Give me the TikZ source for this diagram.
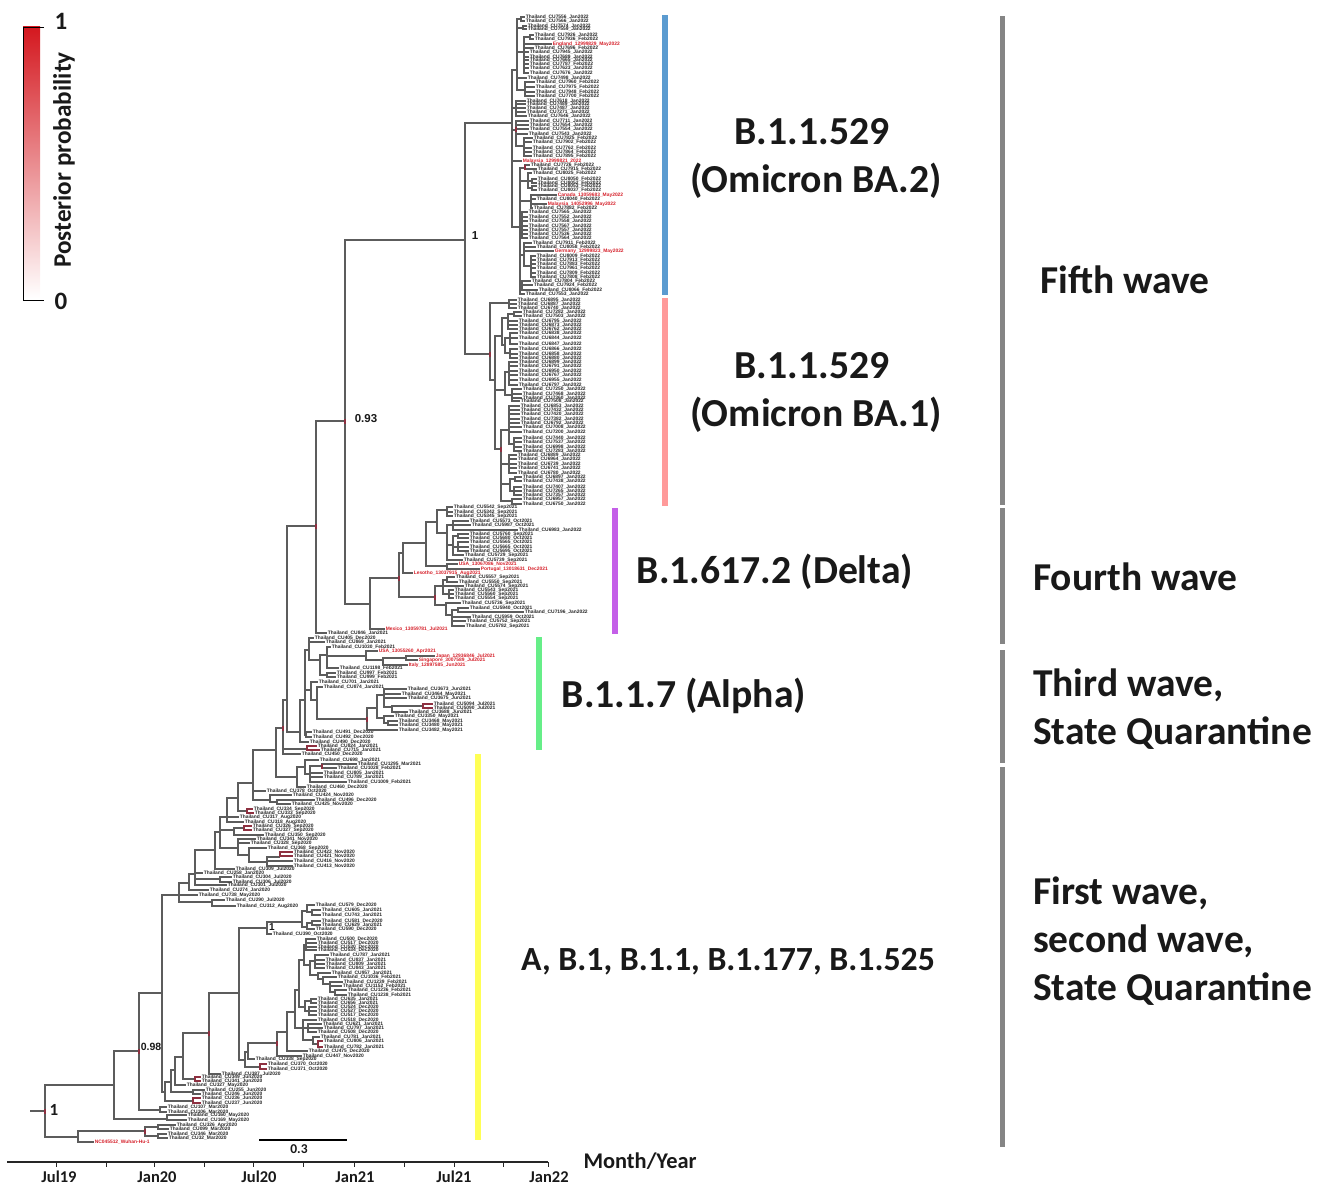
\documentclass[tikz,border=0pt]{standalone}
\usepackage{fontspec}
\setmainfont{Liberation Sans}
\newfontfamily\bigf{Carlito}[BoldFont={Carlito Bold}]
\definecolor{brc}{HTML}{5C5C5C}
\definecolor{brd}{HTML}{8E3040}
\definecolor{tipred}{HTML}{D5202A}
\definecolor{barblue}{HTML}{5B9BD0}
\definecolor{barpink}{HTML}{FF9A9A}
\definecolor{barpurple}{HTML}{C45FE8}
\definecolor{bargreen}{HTML}{66EE88}
\definecolor{baryellow}{HTML}{FFFF55}
\definecolor{wavegray}{HTML}{858585}
\definecolor{legred}{HTML}{D4181F}
\tikzset{
  br/.style={draw=brc,line width=1.15pt},
  brr/.style={draw=brd,line width=1.15pt},
  tipt/.style={font=\fontsize{4.9}{4.9}\selectfont\bfseries,inner sep=0.6pt,anchor=west,text=black!85},
  tipo/.style={font=\fontsize{4.9}{4.9}\selectfont\bfseries,inner sep=0.6pt,anchor=west,text=tipred},
  biglab/.style={font=\bigf\fontsize{39.7}{39.7}\selectfont\bfseries,inner sep=0,text=black!90},
  wavelab/.style={font=\bigf\fontsize{39.5}{39.5}\selectfont\bfseries,inner sep=0,anchor=west,text=black!90},
  axlab/.style={font=\bigf\fontsize{16.5}{16.5}\selectfont\bfseries,inner sep=0,text=black!90},
  pplab/.style={font=\bigf\bfseries,inner sep=0,text=black!90},
  wavebar/.style={fill=wavegray,draw=none},
}
\newcount\tipno
\newcommand\inn[5][br]{\coordinate (#2) at (#4,#5); \draw[#1] (#3) |- (#2);}
\newcommand\T[6][br]{\global\advance\tipno by 1
  \node[tipt] (t\the\tipno) at (#3,#4) {Thailand\_CU#5\_#6};
  \draw[#1] (#2) |- (t\the\tipno.west);}
\newcommand\R[5][br]{\global\advance\tipno by 1
  \node[tipo] (t\the\tipno) at (#3,#4) {#5};
  \draw[#1] (#2) |- (t\the\tipno.west);}
\newcommand\mk[1]{\draw[brr] ([yshift=-2.5pt]#1) -- ([yshift=2.5pt]#1);}
\begin{document}
\begin{tikzpicture}[x=1pt,y=-1pt]
\useasboundingbox (0,0) rectangle (1320,1193);
% legend
\shade[top color=legred,bottom color=white,draw=none] (23,27) rectangle (40,298);
\coordinate (lega) at (44,27); \coordinate (legb) at (23,27); \coordinate (legc) at (23,300); \coordinate (legd) at (44,300);
\draw[black,line width=0.8pt] (lega) -- (legb) -- (legc) -- (legd);
\node[pplab,font=\bigf\fontsize{25}{25}\selectfont\bfseries] (leg1) at (61,21) {1};
\node[pplab,font=\bigf\fontsize{25}{25}\selectfont\bfseries] (leg0) at (61,301) {0};
\node[pplab,font=\bigf\fontsize{25.2}{25.2}\selectfont\bfseries,rotate=90] (legt) at (64,160) {Posterior probability};
% tree root
\coordinate (s) at (30,1111); \coordinate (r) at (45,1111);
\draw[br] (s) -- (r);
\inn{a}{r}{114}{1085}
\inn{w}{r}{78}{1137}
\R{w}{94}{1142}{NC045512\_Wuhan-Hu-1}
\inn{wa}{w}{145}{1131}
\inn{wb}{wa}{158}{1127}
\T{wb}{176}{1125}{326}{Apr2020}
\T{wb}{169}{1129}{099}{Mar2020}
\inn{wc}{wa}{158}{1136}
\T{wc}{167}{1134}{346}{Mar2020}
\T{wc}{168}{1138}{32}{Mar2020}
\inn{b}{a}{139}{1051}
\inn{c}{a}{167}{1119}
\T{c}{187}{1115}{160}{May2020}
\T{c}{187}{1120}{169}{May2020}
\inn{d}{b}{162}{993}
\inn{e}{b}{160}{1110}
\T{e}{167}{1107}{107}{Mar2020}
\T{e}{167}{1112}{106}{Mar2020}
\inn{g}{d}{165}{1092}
\inn{ga}{g}{193}{1101}
\T[brr]{ga}{201}{1098}{236}{Jun2020}
\T[brr]{ga}{201}{1103}{237}{Jun2020}
\inn{h}{g}{171}{1082}
\inn{hd}{h}{193}{1092}
\T{hd}{205}{1090}{255}{Jun2020}
\T{hd}{201}{1094}{246}{Jun2020}
\inn{i}{h}{175}{1070}
\T{i}{186}{1085}{327}{May2020}
\inn{j}{i}{183}{1057}
\inn{fr}{j}{195}{1079}
\T[brr]{fr}{201}{1077}{349}{Jun2020}
\T[brr]{fr}{201}{1081}{341}{Jun2020}
\inn{k}{j}{209}{1033}
\T{k}{221}{1074}{387}{Jul2020}
\inn{l}{k}{239}{993}
\inn{m}{l}{267}{928}
\T{m}{272}{934}{390}{Oct2020}
\inn{o}{m}{302}{922}
\inn{oa}{o}{307}{911}
\T{oa}{315}{905}{579}{Dec2020}
\inn{ob}{oa}{312}{912}
\T{ob}{321}{910}{605}{Jan2021}
\T{ob}{321}{915}{743}{Jan2021}
\inn{oc}{o}{307}{927}
\inn{od}{oc}{312}{923}
\T{od}{321}{921}{581}{Dec2020}
\T{od}{321}{925}{629}{Jan2021}
\T{oc}{315}{929}{590}{Dec2020}
\inn{n}{l}{245}{1060}
\inn{na}{n}{248}{1052}
\T{na}{255}{1059}{338}{Sep2020}
\inn{nb}{n}{260}{1067}
\T[brr]{nb}{267}{1064}{370}{Oct2020}
\T[brr]{nb}{267}{1069}{371}{Oct2020}
\inn{q}{na}{277}{1043}
\T{q}{302}{1056}{447}{Nov2020}
\inn{qa}{q}{287}{1032}
\T{qa}{308}{1051}{475}{Dec2020}
\inn{qb}{qa}{295}{1012}
\inn{qc}{qb}{299}{990}
\inn{qd}{qb}{303}{1028}
\T{qd}{317}{1020}{518}{Dec2020}
\inn{qe}{qd}{308}{1028}
\T{qe}{322}{1024}{621}{Jan2021}
\T{qe}{323}{1028}{797}{Jan2021}
\T{qe}{317}{1032}{508}{Dec2020}
\inn{qf}{qd}{313}{1040}
\T{qf}{320}{1037}{781}{Jan2021}
\inn{qg}{qf}{318}{1044}
\T[brr]{qg}{323}{1041}{806}{Jan2021}
\T[brr]{qg}{323}{1047}{782}{Jan2021}
\inn{qh}{qc}{304}{960}
\inn{qi}{qc}{305}{1007}
\inn{qj}{qi}{311}{1001}
\T{qj}{317}{999}{635}{Jan2021}
\T{qj}{317}{1003}{656}{Jan2021}
\inn{qk}{qi}{309}{1011}
\T{qk}{317}{1007}{524}{Dec2020}
\T{qk}{317}{1011}{527}{Dec2020}
\T{qk}{317}{1015}{517}{Dec2020}
\inn{ql}{qh}{306}{945}
\T{ql}{316}{939}{500}{Dec2020}
\T{ql}{317}{943}{517}{Dec2020}
\T{ql}{317}{947}{530}{Dec2020}
\T{ql}{317}{950}{534}{Dec2020}
\inn{qm}{qh}{310}{965}
\inn{qn}{qm}{315}{961}
\T{qn}{329}{955}{787}{Jan2021}
\T{qn}{325}{960}{837}{Jan2021}
\T{qn}{325}{964}{809}{Jan2021}
\T{qn}{325}{968}{843}{Jan2021}
\inn{qo}{qm}{318}{975}
\T{qo}{331}{973}{957}{Jan2021}
\inn{qp}{qo}{323}{979}
\T{qp}{337}{977}{1036}{Feb2021}
\inn{qq}{qp}{330}{984}
\T{qq}{343}{982}{1239}{Feb2021}
\T{qq}{342}{986}{1152}{Feb2021}
\inn{qr}{qq}{335}{992}
\T{qr}{347}{990}{1236}{Feb2021}
\T{qr}{347}{995}{1238}{Feb2021}
% upper part of the early tree
\inn{f}{d}{179}{895}
\T{f}{198}{895}{738}{May2020}
\inn{fa}{f}{212}{902}
\T{fa}{225}{900}{290}{Jul2020}
\T{fa}{236}{906}{312}{Aug2020}
\inn{fb}{f}{189}{883}
\T{fb}{209}{890}{274}{Jan2020}
\inn{fc}{fb}{195}{874}
\T{fc}{203}{873}{258}{Jan2020}
\inn{fd}{fc}{220}{879}
\T{fd}{232}{877}{304}{Jul2020}
\T{fd}{232}{882}{306}{Jul2020}
\T{fc}{227}{885}{301}{Jul2020}
\inn{fe}{fc}{215}{850}
\T{fe}{235}{869}{309}{Jul2020}
\inn{ff}{fe}{220}{832}
\inn{fg}{ff}{227}{817}
\T{fg}{239}{817}{317}{Aug2020}
\T{fg}{244}{822}{318}{Aug2020}
\inn{fh}{ff}{234}{830}
\inn{fi}{fh}{244}{828}
\T[brr]{fi}{252}{826}{326}{Sep2020}
\T[brr]{fi}{252}{830}{327}{Sep2020}
\T{fh}{264}{835}{350}{Sep2020}
\inn{fj}{ff}{238}{848}
\T{fj}{256}{839}{341}{Nov2020}
\T{fj}{250}{843}{328}{Sep2020}
\inn{fk}{fj}{249}{855}
\T{fk}{267}{848}{368}{Sep2020}
\inn{fl}{fk}{267}{862}
\inn{fm}{fl}{280}{857}
\T[brr]{fm}{293}{852}{422}{Nov2020}
\T[brr]{fm}{293}{856}{421}{Nov2020}
\T{fl}{293}{861}{416}{Nov2020}
\T{fl}{293}{866}{413}{Nov2020}
\inn{fn}{fg}{238}{798}
\inn{fo}{fn}{247}{811}
\T[brr]{fo}{253}{809}{334}{Sep2020}
\T[brr]{fo}{254}{813}{333}{Sep2020}
\inn{fp}{fn}{253}{783}
\T{fp}{266}{791}{378}{Oct2020}
\inn{fq}{fp}{270}{800}
\T{fq}{292}{795}{424}{Nov2020}
\inn{fr2}{fq}{277}{802}
\T{fr2}{315}{800}{496}{Dec2020}
\T{fr2}{291}{804}{425}{Nov2020}
\inn{fs}{fp}{276}{750}
\inn{ft}{fs}{297}{777}
\T{ft}{306}{787}{460}{Dec2020}
\inn{fu}{ft}{305}{767}
\T{fu}{319}{760}{698}{Jan2021}
\inn{fv}{fu}{310}{774}
\inn{fw}{fv}{322}{766}
\T{fw}{357}{764}{1295}{Mar2021}
\T{fw}{337}{768}{1028}{Feb2021}
\T{fv}{323}{773}{805}{Jan2021}
\T{fv}{323}{777}{789}{Jan2021}
\T{fv}{347}{782}{1009}{Feb2021}
% trunk
\inn{tr}{fs}{283}{728}
\T{tr}{301}{754}{450}{Dec2020}
\inn{tra}{tr}{307}{749}
\T[brr]{tra}{317}{746}{824}{Jan2021}
\T[brr]{tra}{320}{750}{715}{Jan2021}
\inn{tk}{tr}{287}{700}
\inn{al}{tk}{300}{732}
\T{al}{309}{742}{490}{Dec2020}
\inn{aa}{al}{305}{700}
\inn{ab}{aa}{306}{735}
\T{ab}{312}{732}{491}{Dec2020}
\T{ab}{312}{737}{492}{Dec2020}
\inn{ac}{aa}{309}{650}
\T{ac}{314}{638}{405}{Dec2020}
\T{ac}{325}{642}{869}{Jan2021}
\inn{ad}{ac}{320}{660}
\inn{ae}{ad}{327}{655}
\T{ae}{331}{647}{1030}{Feb2021}
\T{ae}{339}{668}{1198}{Feb2021}
\inn{af}{ad}{327}{675}
\T{af}{336}{673}{997}{Feb2021}
\T{af}{336}{677}{999}{Feb2021}
\inn{ag}{ae}{366}{656}
\R{ag}{378}{651}{USA\_13055260\_Apr2021}
\inn{ah}{ag}{383}{660}
\inn{ai}{ah}{406}{658}
\R{ai}{435}{656}{Japan\_12936846\_Jul2021}
\R{ai}{418}{660}{Singapore\_3007589\_Jul2021}
\R{ah}{408}{665}{Italy\_12897585\_Jun2021}
\inn{aj}{aa}{311}{690}
\T{aj}{318}{682}{701}{Jan2021}
\inn{ak}{aj}{317}{700}
\T{ak}{323}{687}{874}{Jan2021}
\inn{am}{ak}{367}{719}
\T{am}{398}{730}{3482}{May2021}
\inn{an}{am}{377}{708}
\inn{ao}{an}{384}{695}
\T{ao}{407}{689}{3673}{Jun2021}
\T{ao}{401}{694}{3464}{May2021}
\T{ao}{407}{698}{3675}{Jun2021}
\inn{ap}{ao}{392}{707}
\inn{aq}{ap}{423}{706}
\T[brr]{aq}{433}{704}{5094}{Jul2021}
\T[brr]{aq}{433}{708}{5090}{Jul2021}
\T{ap}{408}{712}{3688}{Jun2021}
\inn{as}{an}{384}{718}
\T{as}{394}{716}{3350}{May2021}
\inn{at}{as}{388}{723}
\T{at}{398}{721}{3468}{May2021}
\T{at}{398}{725}{3480}{May2021}
\inn{up}{tk}{316}{526}
\T{up}{327}{633}{846}{Jan2021}
\inn{mj}{up}{345}{421}
\inn{dl}{mj}{370}{604}
\R{dl}{385}{629}{Mexico\_13059781\_Jul2021}
% delta
\inn{da}{dl}{399}{578}
\inn{db}{da}{403}{553}
\R{db}{413}{573}{Lesotho\_13037915\_Aug2021}
\inn{dc}{db}{426}{543}
\inn{dd}{dc}{437}{522}
\inn{de}{dc}{447}{566}
\R{de}{458}{564}{USA\_13067086\_Nov2021}
\R{de}{480}{569}{Portugal\_13018631\_Dec2021}
\inn{df}{dd}{447}{510}
\T{df}{453}{507}{5542}{Sep2021}
\T{df}{453}{512}{5342}{Sep2021}
\T{df}{453}{516}{5345}{Sep2021}
\inn{dg}{dd}{447}{533}
\T{dg}{463}{560}{5739}{Sep2021}
\inn{dh}{dg}{453}{525}
\T{dh}{469}{521}{5573}{Oct2021}
\T{dh}{471}{525}{5987}{Oct2021}
\T{dh}{518}{530}{6983}{Jan2022}
\inn{di}{dg}{453}{545}
\T{di}{464}{555}{5729}{Sep2021}
\inn{dj}{di}{458}{536}
\T{dj}{469}{534}{5760}{Sep2021}
\T{dj}{469}{538}{5680}{Oct2021}
\inn{dk}{di}{458}{547}
\T{dk}{469}{542}{5565}{Oct2021}
\T{dk}{469}{547}{5665}{Oct2021}
\T{dk}{469}{551}{5695}{Oct2021}
\inn{dm}{da}{435}{597}
\inn{dn}{dm}{443}{586}
\inn{dp}{dn}{447}{580}
\T{dp}{455}{577}{5557}{Sep2021}
\T{dp}{458}{582}{5550}{Sep2021}
\T{dn}{464}{586}{5574}{Sep2021}
\inn{dq}{dn}{449}{594}
\T{dq}{454}{590}{5543}{Sep2021}
\T{dq}{454}{594}{5560}{Sep2021}
\T{dq}{454}{598}{5554}{Sep2021}
\inn{dr}{dm}{446}{605}
\T{dr}{461}{603}{5736}{Sep2021}
\inn{ds}{dr}{452}{615}
\inn{dt}{ds}{458}{610}
\T{dt}{469}{608}{5940}{Oct2021}
\T{dt}{524}{612}{7196}{Jan2022}
\T{ds}{471}{617}{5959}{Oct2021}
\T{ds}{466}{621}{5752}{Sep2021}
\T{ds}{465}{626}{5782}{Sep2021}
% omicron
\inn{om}{mj}{465}{240}
\inn{xa}{om}{490}{354}
\inn{xb}{xa}{509}{303}
\T{xb}{517}{300}{6895}{Jan2022}
\T{xb}{517}{304}{6887}{Jan2022}
\T{xb}{517}{308}{6740}{Jan2022}
\inn{xc}{xa}{495}{380}
\inn{xd}{xc}{502}{336}
\inn{xe}{xd}{508}{318}
\inn{xf}{xe}{514}{314}
\T{xf}{522}{312}{7282}{Jan2022}
\T{xf}{522}{316}{7503}{Jan2022}
\T{xe}{518}{321}{6795}{Jan2022}
\T{xe}{518}{325}{6873}{Jan2022}
\T{xe}{518}{329}{6762}{Jan2022}
\inn{xg}{xd}{505}{345}
\inn{xh}{xg}{510}{338}
\T{xh}{518}{333}{6838}{Jan2022}
\T{xh}{518}{338}{6844}{Jan2022}
\T{xh}{518}{344}{6847}{Jan2022}
\inn{xi}{xg}{510}{353}
\T{xi}{518}{349}{6866}{Jan2022}
\T{xi}{518}{354}{6858}{Jan2022}
\T{xi}{518}{358}{6880}{Jan2022}
\inn{xj}{xc}{505}{390}
\inn{xk}{xj}{509}{372}
\T{xk}{518}{362}{6899}{Jan2022}
\T{xk}{518}{366}{6791}{Jan2022}
\T{xk}{518}{371}{6950}{Jan2022}
\T{xk}{518}{375}{6767}{Jan2022}
\T{xk}{518}{380}{6955}{Jan2022}
\T{xk}{518}{385}{6797}{Jan2022}
\inn{xl}{xj}{512}{395}
\T{xl}{522}{389}{7250}{Jan2022}
\T{xl}{522}{394}{7468}{Jan2022}
\T{xl}{522}{398}{7360}{Jan2022}
\T{xl}{520}{401}{7508}{Jan2022}
\inn{xm}{xc}{501}{449}
\inn{xn}{xm}{509}{430}
\T{xn}{520}{406}{6853}{Jan2022}
\T{xn}{520}{410}{7432}{Jan2022}
\T{xn}{520}{414}{7420}{Jan2022}
\T{xn}{520}{419}{7382}{Jan2022}
\T{xn}{520}{423}{6792}{Jan2022}
\T{xn}{522}{427}{7008}{Jan2022}
\T{xn}{522}{432}{7200}{Jan2022}
\inn{xo}{xn}{514}{444}
\T{xo}{522}{438}{7440}{Jan2022}
\T{xo}{522}{442}{7537}{Jan2022}
\T{xo}{522}{447}{6998}{Jan2022}
\T{xo}{522}{451}{7283}{Jan2022}
\inn{xp}{xm}{509}{464}
\T{xp}{517}{455}{6889}{Jan2022}
\T{xp}{517}{459}{6964}{Jan2022}
\T{xp}{517}{464}{6739}{Jan2022}
\T{xp}{517}{468}{6741}{Jan2022}
\T{xp}{517}{473}{6780}{Jan2022}
\inn{xq}{xm}{510}{484}
\inn{xr}{xq}{515}{479}
\T{xr}{522}{477}{6897}{Jan2022}
\T{xr}{522}{481}{7438}{Jan2022}
\inn{xs}{xq}{514}{491}
\T{xs}{522}{487}{7407}{Jan2022}
\T{xs}{522}{491}{7265}{Jan2022}
\T{xs}{522}{495}{7357}{Jan2022}
\inn{xt}{xm}{512}{501}
\T{xt}{522}{499}{6957}{Jan2022}
\T{xt}{522}{504}{6750}{Jan2022}
\inn{ya}{om}{512}{123}
\inn{yb}{ya}{517}{70}
\inn{yc}{yb}{521}{19}
\T{yc}{525}{17}{7556}{Jan2022}
\T{yc}{525}{21}{7566}{Jan2022}
\inn{yd}{yb}{523}{28}
\T{yd}{527}{26}{7574}{Jan2022}
\T{yd}{527}{29}{7559}{Jan2022}
\inn{ye}{yb}{524}{52}
\inn{yf}{ye}{530}{37}
\T{yf}{534}{35}{7926}{Jan2022}
\T{yf}{534}{39}{7936}{Feb2022}
\R{ye}{552}{44}{England\_12999829\_May2022}
\T{ye}{534}{48}{7696}{Feb2022}
\T{ye}{529}{52}{7945}{Jan2022}
\T{ye}{529}{57}{7689}{Jan2022}
\T{ye}{529}{60}{7665}{Jan2022}
\T{ye}{529}{64}{7787}{Feb2022}
\T{ye}{529}{68}{7623}{Jan2022}
\T{ye}{529}{73}{7676}{Jan2022}
\T{yb}{527}{78}{7498}{Jan2022}
\inn{yg}{yb}{525}{90}
\T{yg}{535}{82}{7960}{Feb2022}
\T{yg}{535}{87}{7975}{Feb2022}
\T{yg}{535}{92}{7948}{Feb2022}
\T{yg}{535}{96}{7700}{Feb2022}
\inn{yh}{ya}{516}{108}
\T{yh}{526}{101}{7618}{Jan2022}
\T{yh}{526}{104}{7489}{Jan2022}
\T{yh}{526}{108}{7487}{Jan2022}
\T{yh}{526}{112}{7271}{Jan2022}
\T{yh}{527}{116}{7646}{Jan2022}
\inn{yi}{ya}{516}{130}
\T{yi}{529}{121}{7711}{Jan2022}
\T{yi}{529}{125}{7654}{Jan2022}
\T{yi}{529}{129}{7554}{Jan2022}
\T{yi}{528}{134}{7543}{Jan2022}
\inn{yj}{yi}{524}{146}
\T{yj}{533}{138}{7825}{Feb2022}
\T{yj}{532}{142}{7902}{Feb2022}
\T{yj}{532}{148}{7762}{Feb2022}
\T{yj}{532}{152}{7864}{Feb2022}
\T{yj}{532}{156}{7895}{Feb2022}
\R{ya}{522}{161}{Malaysia\_12999821\_2022}
\inn{yk}{ya}{520}{227}
\inn{ym}{yk}{525}{168}
\T{ym}{530}{165}{7726}{Feb2022}
\T{ym}{537}{169}{7915}{Feb2022}
\inn{yn}{yk}{528}{181}
\T{yn}{532}{173}{8025}{Feb2022}
\inn{yo}{yn}{532}{181}
\T{yo}{537}{179}{8050}{Feb2022}
\T{yo}{537}{183}{8052}{Feb2022}
\inn{yp}{yn}{532}{188}
\T{yp}{537}{186}{8053}{Feb2022}
\T{yp}{537}{190}{8037}{Feb2022}
\inn{yq}{yk}{531}{201}
\R{yq}{557}{195}{Canada\_13059683\_May2022}
\T{yq}{536}{199}{8040}{Feb2022}
\R{yq}{547}{204}{Malaysia\_14052996\_May2022}
\T{yq}{533}{208}{7882}{Feb2022}
\inn{yr}{yk}{522}{225}
\T{yr}{528}{212}{7565}{Jan2022}
\T{yr}{528}{217}{7552}{Jan2022}
\T{yr}{528}{221}{7558}{Jan2022}
\T{yr}{528}{226}{7567}{Jan2022}
\T{yr}{528}{230}{7557}{Jan2022}
\T{yr}{528}{234}{7536}{Jan2022}
\T{yr}{528}{238}{7564}{Jan2022}
\inn{ys}{yk}{524}{255}
\T{ys}{532}{243}{7911}{Feb2022}
\T{ys}{536}{247}{8058}{Feb2022}
\R{ys}{554}{251}{Germany\_12999823\_May2022}
\inn{yt}{ys}{531}{266}
\T{yt}{536}{256}{8009}{Feb2022}
\T{yt}{536}{260}{7913}{Feb2022}
\T{yt}{536}{264}{7883}{Feb2022}
\T{yt}{536}{268}{7961}{Feb2022}
\T{yt}{536}{273}{7809}{Feb2022}
\T{yt}{536}{277}{7808}{Feb2022}
\inn{yu}{yk}{522}{284}
\T{yu}{531}{281}{7804}{Feb2022}
\T{yu}{533}{285}{7924}{Feb2022}
\T{yu}{538}{290}{8066}{Feb2022}
\T{yk}{525}{294}{7553}{Jan2022}
% posterior marks at junctions
\mk{r}\mk{wa}\mk{b}\mk{k}\mk{q}\mk{fw}\mk{tr}\mk{am}\mk{up}\mk{mj}\mk{dm}\mk{da}\mk{xa}\mk{xm}\mk{yi}\mk{ym}
% support values
\node[pplab,font=\bigf\fontsize{17}{17}\selectfont\bfseries] (v1) at (54,1110) {1};
\node[pplab,font=\fontsize{10.5}{10.5}\selectfont\bfseries] (v2) at (151,1047) {0.98};
\node[pplab,font=\fontsize{10}{10}\selectfont\bfseries] (v3) at (272,927) {1};
\node[pplab,font=\fontsize{11.5}{11.5}\selectfont\bfseries] (v4) at (475,236) {1};
\node[pplab,font=\fontsize{11.5}{11.5}\selectfont\bfseries] (v5) at (366,419) {0.93};
% lineage bars
\fill[barblue] (662,15) rectangle (668,295);
\fill[barpink] (662,298) rectangle (668,506);
\fill[barpurple] (612,508) rectangle (618,634);
\fill[bargreen] (536,637) rectangle (542,750);
\fill[baryellow] (475,754) rectangle (481,1140);
% wave bars
\fill[wavebar] (1000,16) rectangle (1005,505);
\fill[wavebar] (1000,508) rectangle (1005,644);
\fill[wavebar] (1000,650) rectangle (1005,763);
\fill[wavebar] (1000,767) rectangle (1005,1147);
% lineage labels
\node[biglab] (l1) at (812,132) {B.1.1.529};
\node[biglab] (l2) at (816,181) {(Omicron BA.2)};
\node[biglab] (l3) at (812,366) {B.1.1.529};
\node[biglab] (l4) at (816,415) {(Omicron BA.1)};
\node[biglab] (l5) at (775,571.5) {B.1.617.2 (Delta)};
\node[biglab] (l6) at (684,695.5) {B.1.1.7 (Alpha)};
\node[biglab,font=\bigf\fontsize{33.8}{33.8}\selectfont\bfseries] (l7) at (728,962) {A, B.1, B.1.1, B.1.177, B.1.525};
% wave labels
\node[wavelab] (w1) at (1040,279.5) {Fifth wave};
\node[wavelab] (w2) at (1033,576.5) {Fourth wave};
\node[wavelab] (w3) at (1033,685) {Third wave,};
\node[wavelab] (w4) at (1033,733) {State Quarantine};
\node[wavelab] (w5) at (1033,893) {First wave,};
\node[wavelab] (w6) at (1033,941) {second wave,};
\node[wavelab] (w7) at (1033,989) {State Quarantine};
% scale bar
\coordinate (sa) at (259,1140); \coordinate (sb) at (347,1140);
\draw[black,line width=1.5pt] (sa) -- (sb);
\node[pplab,font=\bigf\fontsize{13.5}{13.5}\selectfont\bfseries] (sl) at (299,1149) {0.3};
% axis
\coordinate (xl) at (7,1162); \coordinate (xr) at (548,1162);
\draw[black!85,line width=1.3pt] (xl) -- (xr);
\foreach \tx in {56,106,154,204,253,303,354,404,454,503,548}
  \draw[black!85,line width=0.8pt] (\tx,1162) -- (\tx,1167);
\node[axlab] (x1) at (59,1177) {Jul19};
\node[axlab] (x2) at (157,1177) {Jan20};
\node[axlab] (x3) at (259,1177) {Jul20};
\node[axlab] (x4) at (355,1177) {Jan21};
\node[axlab] (x5) at (454,1177) {Jul21};
\node[axlab] (x6) at (549,1177) {Jan22};
\node[axlab,font=\bigf\fontsize{22.4}{22.4}\selectfont\bfseries] (x7) at (640,1161) {Month/Year};
\end{tikzpicture}
\end{document}
